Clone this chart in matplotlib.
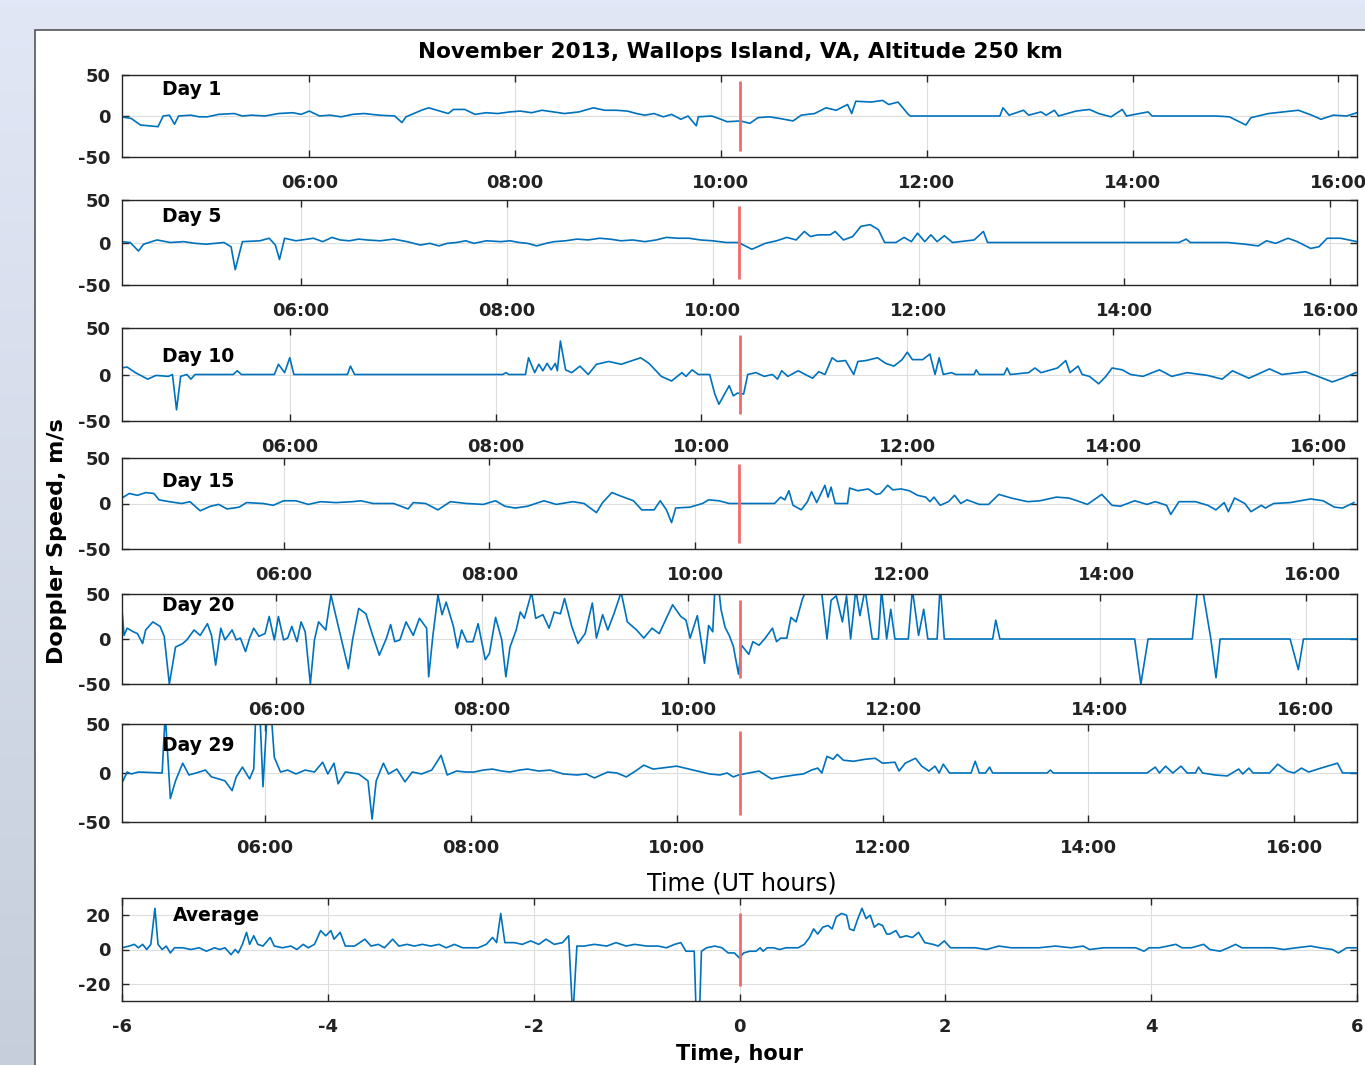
import matplotlib.pyplot as plt
from matplotlib.patches import Rectangle
import numpy as np

plt.rcParams['axes.unicode_minus'] = False

# panel names and the UT hour of the marked event (red line) for each day
day_names = ["Day 1", "Day 5", "Day 10", "Day 15", "Day 20", "Day 29"]
event_ut = [10.18, 10.26, 10.37, 10.43, 10.50, 10.61]

# (UT hour, Doppler speed m/s)
day1 = [(4.17, -1), (4.27, -3), (4.36, -11), (4.53, -13), (4.58, 0), (4.64, 1), (4.69, -10), (4.73, 0),
        (4.85, 1), (4.93, -1), (5.01, -1), (5.12, 2), (5.27, 3), (5.35, 0), (5.44, 1), (5.57, 0),
        (5.70, 3), (5.84, 4), (5.92, 2), (6.00, 6), (6.10, 0), (6.20, 1), (6.31, -1), (6.42, 2),
        (6.53, 3), (6.68, 1), (6.83, 0), (6.90, -8), (6.94, -1), (7.09, 7), (7.16, 10), (7.35, 3),
        (7.40, 8), (7.51, 8), (7.61, 2), (7.72, 4), (7.83, 3), (7.95, 5), (8.05, 6), (8.16, 4),
        (8.26, 7), (8.37, 5), (8.48, 3), (8.62, 5), (8.76, 10), (8.87, 7), (8.98, 7), (9.09, 6),
        (9.18, 3), (9.26, 1), (9.35, 3), (9.44, -1), (9.52, 2), (9.61, -4), (9.68, 0), (9.76, -12),
        (9.78, -1), (9.91, 0), (10.00, -4), (10.06, -7), (10.19, -6), (10.28, -9), (10.36, -2),
        (10.47, -1), (10.57, -3), (10.70, -6), (10.78, 1), (10.91, 3), (11.02, 10), (11.12, 7),
        (11.23, 14), (11.27, 3), (11.31, 18), (11.46, 17), (11.57, 19), (11.63, 14), (11.72, 17),
        (11.82, 2), (11.84, 0), (12.71, 0), (12.74, 10), (12.80, 1), (12.94, 7), (12.99, 1),
        (13.11, 5), (13.16, 1), (13.24, 7), (13.28, 0), (13.45, 6), (13.58, 8), (13.67, 3),
        (13.79, -1), (13.90, 8), (13.94, 0), (14.15, 5), (14.19, 0), (14.81, 0), (14.94, -1),
        (15.10, -11), (15.15, -2), (15.32, 3), (15.61, 7), (15.74, 1), (15.83, -4), (15.95, 1),
        (16.08, 0), (16.18, 4)]

day5 = [(4.26, 1), (4.34, 0), (4.42, -10), (4.47, -2), (4.60, 3), (4.73, 0), (4.86, 1), (4.97, -1),
        (5.08, -2), (5.25, 0), (5.32, -5), (5.36, -32), (5.43, 1), (5.60, 2), (5.69, 5), (5.75, -3),
        (5.79, -20), (5.84, 5), (5.95, 2), (6.12, 5), (6.21, 1), (6.30, 6), (6.38, 3), (6.47, 2),
        (6.56, 4), (6.64, 3), (6.77, 2), (6.90, 4), (7.03, 1), (7.16, -3), (7.25, -1), (7.34, -4),
        (7.42, -1), (7.51, 0), (7.60, 2), (7.68, -1), (7.80, 2), (7.94, 1), (8.03, 2), (8.12, 0),
        (8.20, -1), (8.29, -4), (8.38, -1), (8.46, 1), (8.57, 2), (8.68, 4), (8.79, 3), (8.90, 5),
        (9.00, 4), (9.11, 2), (9.22, 3), (9.34, 1), (9.45, 3), (9.55, 6), (9.66, 5), (9.77, 5),
        (9.88, 3), (10.00, 2), (10.13, 0), (10.25, 0), (10.38, -8), (10.51, -1), (10.62, 2),
        (10.72, 6), (10.81, 3), (10.89, 13), (10.95, 7), (11.02, 9), (11.14, 9), (11.19, 13),
        (11.27, 3), (11.36, 7), (11.44, 19), (11.53, 21), (11.61, 15), (11.67, 0), (11.78, 0),
        (11.86, 6), (11.93, 1), (11.99, 11), (12.06, 1), (12.12, 9), (12.18, 1), (12.25, 8),
        (12.33, 0), (12.54, 3), (12.63, 13), (12.67, 0), (14.53, 0), (14.60, 4), (14.64, 0),
        (15.00, 0), (15.17, -2), (15.30, -4), (15.38, 2), (15.47, -1), (15.59, 5), (15.68, 1),
        (15.81, -7), (15.89, -5), (15.97, 5), (16.10, 5), (16.26, 1)]

day10 = [(4.36, 7), (4.42, 8), (4.50, 2), (4.62, -5), (4.70, -1), (4.82, -2), (4.86, 0), (4.90, -38),
         (4.94, -2), (5.00, 0), (5.04, -5), (5.08, 0), (5.45, 0), (5.49, 4), (5.53, 0), (5.85, 0),
         (5.89, 11), (5.95, 2), (6.00, 18), (6.04, 0), (6.56, 0), (6.59, 9), (6.63, 0), (8.07, 0),
         (8.10, 2), (8.13, 0), (8.29, 0), (8.32, 18), (8.38, 2), (8.42, 11), (8.46, 4), (8.50, 12),
         (8.54, 5), (8.58, 12), (8.60, 4), (8.63, 36), (8.68, 5), (8.74, 2), (8.82, 9), (8.90, 0),
         (8.98, 11), (9.10, 14), (9.22, 11), (9.41, 18), (9.49, 12), (9.61, -2), (9.71, -7), (9.81, 2),
         (9.85, -2), (9.91, 5), (9.97, 0), (10.08, 0), (10.13, -21), (10.17, -32), (10.27, -12),
         (10.31, -23), (10.35, -20), (10.41, -21), (10.45, 0), (10.53, 2), (10.61, -2), (10.69, 0),
         (10.74, -5), (10.78, 4), (10.84, -2), (10.94, 4), (11.08, -4), (11.14, 3), (11.20, 0),
         (11.27, 18), (11.32, 14), (11.40, 15), (11.48, 0), (11.52, 14), (11.60, 15), (11.71, 18),
         (11.79, 12), (11.87, 9), (11.95, 16), (12.00, 24), (12.05, 16), (12.15, 16), (12.22, 22),
         (12.27, 0), (12.31, 18), (12.35, 0), (12.43, 2), (12.47, 0), (12.65, 0), (12.67, 5),
         (12.70, 0), (12.94, 0), (12.97, 7), (13.00, 0), (13.18, 2), (13.24, 7), (13.30, 2),
         (13.46, 7), (13.54, 15), (13.58, 2), (13.66, 9), (13.70, 0), (13.77, -2), (13.86, -10),
         (13.93, -2), (13.99, 7), (14.09, 5), (14.17, 0), (14.29, -2), (14.45, 5), (14.57, -2),
         (14.72, 2), (14.92, -1), (15.06, -5), (15.16, 4), (15.32, -4), (15.52, 6), (15.64, 0),
         (15.87, 3), (15.99, -2), (16.13, -8), (16.23, -4), (16.36, 2)]

day15 = [(4.43, 6), (4.50, 11), (4.58, 9), (4.66, 12), (4.74, 11), (4.79, 4), (4.89, 2), (5.01, 0),
         (5.09, 2), (5.19, -8), (5.29, -3), (5.37, -1), (5.45, -6), (5.57, -4), (5.64, 1), (5.80, 0),
         (5.90, -2), (6.00, 3), (6.12, 3), (6.24, -1), (6.36, 2), (6.51, 1), (6.67, 2), (6.75, 3),
         (6.87, 0), (7.07, 0), (7.21, -6), (7.26, 1), (7.38, 0), (7.50, -7), (7.62, 2), (7.78, 0),
         (7.94, -1), (8.06, 3), (8.15, -3), (8.25, -5), (8.37, -3), (8.53, 3), (8.65, -1), (8.81, 2),
         (8.92, 0), (9.04, -10), (9.10, 1), (9.19, 12), (9.28, 8), (9.40, 3), (9.48, -7), (9.60, -7),
         (9.66, 3), (9.72, -7), (9.77, -21), (9.81, -5), (9.95, -4), (10.07, 0), (10.13, 4),
         (10.23, 3), (10.33, 0), (10.42, 0), (10.61, 0), (10.77, 0), (10.83, 7), (10.87, 4),
         (10.91, 14), (10.95, -2), (11.03, -7), (11.09, 2), (11.13, 13), (11.18, 1), (11.26, 20),
         (11.29, 7), (11.32, 18), (11.36, 0), (11.48, 0), (11.50, 17), (11.58, 14), (11.68, 16),
         (11.76, 10), (11.80, 11), (11.87, 20), (11.92, 15), (12.00, 16), (12.08, 14), (12.16, 9),
         (12.24, 7), (12.28, 2), (12.32, 7), (12.38, -2), (12.46, 2), (12.52, 9), (12.58, 0),
         (12.64, 4), (12.76, -1), (12.85, -1), (12.95, 10), (13.07, 6), (13.23, 2), (13.35, 3),
         (13.51, 7), (13.63, 6), (13.71, 3), (13.81, -1), (13.95, 10), (14.05, -2), (14.13, -3),
         (14.27, 3), (14.39, -1), (14.47, 2), (14.58, -2), (14.62, -12), (14.70, 2), (14.86, 2),
         (14.98, -2), (15.06, -7), (15.14, 1), (15.18, -9), (15.24, 6), (15.34, 0), (15.40, -9),
         (15.50, -2), (15.54, -5), (15.62, 0), (15.78, 1), (15.98, 5), (16.10, 3), (16.21, -4),
         (16.29, -5), (16.40, 1)]

day20 = [(4.50, 32), (4.52, 4), (4.55, 12), (4.61, 8), (4.65, 6), (4.70, -5), (4.73, 10), (4.80, 19),
         (4.87, 14), (4.91, 3), (4.96, -50), (5.02, -9), (5.09, -5), (5.13, -1), (5.20, 10), (5.26, 4),
         (5.33, 17), (5.37, 4), (5.41, -29), (5.46, 12), (5.50, -1), (5.57, 10), (5.61, -1), (5.65, 1),
         (5.70, -14), (5.74, 1), (5.78, 12), (5.83, 3), (5.89, 6), (5.93, 25), (5.98, -1), (6.02, 25),
         (6.07, -1), (6.11, 1), (6.15, 14), (6.20, -3), (6.24, 19), (6.28, 8), (6.33, -50), (6.37, -1),
         (6.41, 19), (6.48, 10), (6.53, 49), (6.61, 10), (6.70, -33), (6.74, -1), (6.80, 34),
         (6.87, 28), (6.93, 6), (7.00, -18), (7.07, 1), (7.11, 16), (7.15, -3), (7.20, -1), (7.26, 19),
         (7.33, 4), (7.39, 23), (7.46, 12), (7.48, -42), (7.52, 3), (7.57, 49), (7.61, 27), (7.65, 41),
         (7.72, 14), (7.76, -10), (7.80, 10), (7.85, -3), (7.91, -3), (7.96, 17), (8.03, -23),
         (8.07, -16), (8.13, 24), (8.19, -1), (8.23, -42), (8.27, -9), (8.33, 10), (8.37, 30),
         (8.41, 23), (8.48, 52), (8.52, 23), (8.59, 27), (8.65, 12), (8.70, 30), (8.76, 28), (8.80, 45),
         (8.87, 14), (8.93, -5), (9.00, 6), (9.07, 40), (9.11, 1), (9.17, 27), (9.22, 10), (9.28, 28),
         (9.35, 52), (9.41, 19), (9.50, 10), (9.57, 1), (9.65, 12), (9.72, 6), (9.85, 38), (9.93, 25),
         (9.98, 21), (10.02, 1), (10.09, 26), (10.16, -27), (10.20, 15), (10.24, 8), (10.26, 55),
         (10.30, 55), (10.32, 33), (10.36, 13), (10.40, 4), (10.44, -8), (10.49, -39), (10.52, -7),
         (10.59, -17), (10.63, -3), (10.69, -7), (10.75, 1), (10.82, 12), (10.86, -3), (10.90, 1),
         (10.96, 1), (11.00, 24), (11.05, 19), (11.11, 44), (11.15, 55), (11.18, 60), (11.29, 60),
         (11.35, 0), (11.39, 43), (11.44, 48), (11.50, 19), (11.54, 48), (11.58, 0), (11.63, 55),
         (11.67, 26), (11.72, 55), (11.79, 0), (11.85, 0), (11.88, 55), (11.93, 0), (11.97, 33),
         (12.01, 0), (12.14, 0), (12.18, 55), (12.24, 4), (12.29, 33), (12.33, 0), (12.42, 0),
         (12.45, 60), (12.49, 0), (12.96, 0), (12.99, 21), (13.03, 0), (14.34, 0), (14.40, -50),
         (14.47, 0), (14.90, 0), (14.95, 55), (15.00, 55), (15.08, 0), (15.13, -43), (15.17, 0),
         (15.85, 0), (15.93, -34), (15.98, 0), (16.50, 0)]

day29 = [(4.62, -8), (4.66, 1), (4.70, -1), (4.77, 1), (5.00, 0), (5.03, 60), (5.08, -26), (5.13, -8),
         (5.20, 10), (5.26, -2), (5.33, 0), (5.42, 3), (5.48, -4), (5.55, -6), (5.61, -8), (5.68, -18),
         (5.72, -4), (5.78, 6), (5.85, -6), (5.89, 4), (5.91, 60), (5.95, 60), (5.98, -14), (6.02, 60),
         (6.06, 60), (6.09, 16), (6.11, 11), (6.15, 1), (6.22, 3), (6.30, -1), (6.39, 3), (6.48, 1),
         (6.56, 11), (6.61, -1), (6.67, 10), (6.71, -11), (6.78, 1), (6.91, -1), (7.00, -8),
         (7.04, -47), (7.08, -8), (7.15, 10), (7.20, -1), (7.28, 4), (7.36, -9), (7.43, 1), (7.52, -1),
         (7.62, 3), (7.71, 18), (7.77, -2), (7.86, 2), (7.95, 1), (8.03, 1), (8.12, 3), (8.21, 4),
         (8.30, 2), (8.38, 1), (8.47, 3), (8.55, 4), (8.66, 2), (8.77, 3), (8.90, -1), (9.03, -2),
         (9.12, -1), (9.20, -5), (9.33, 1), (9.42, 0), (9.51, -4), (9.60, 2), (9.68, 8), (9.77, 4),
         (9.85, 5), (10.00, 7), (10.20, 2), (10.32, -1), (10.42, -2), (10.49, 0), (10.55, -4),
         (10.60, -2), (10.65, -1), (10.80, 2), (10.92, -6), (11.02, -4), (11.15, -2), (11.23, -1),
         (11.31, 3), (11.37, 5), (11.41, 0), (11.46, 17), (11.52, 14), (11.56, 19), (11.62, 13),
         (11.72, 12), (11.83, 14), (11.93, 15), (12.00, 10), (12.12, 11), (12.16, 2), (12.22, 10),
         (12.32, 15), (12.38, 7), (12.45, 2), (12.51, 7), (12.55, 0), (12.59, 9), (12.65, 0),
         (12.86, 0), (12.90, 12), (12.94, 0), (13.00, 0), (13.04, 6), (13.07, 0), (13.60, 0),
         (13.63, 3), (13.66, 0), (14.57, 0), (14.65, 6), (14.69, 0), (14.75, 7), (14.82, 0),
         (14.90, 7), (14.96, 0), (15.04, 0), (15.07, 6), (15.11, 0), (15.23, -2), (15.35, -3),
         (15.46, 4), (15.50, -1), (15.56, 5), (15.60, 0), (15.76, 0), (15.84, 9), (15.93, 2),
         (16.00, 0), (16.07, 5), (16.14, 1), (16.26, 5), (16.42, 10), (16.47, 0), (16.61, 0)]

# (hours from event, mean speed m/s)
average = [(-6.00, 1), (-5.93, 2), (-5.88, 3), (-5.84, 1), (-5.80, 3), (-5.76, 0), (-5.72, 3),
           (-5.68, 24), (-5.65, 3), (-5.61, 0), (-5.57, 2), (-5.53, -2), (-5.49, 1), (-5.41, 1),
           (-5.33, 0), (-5.25, 1), (-5.18, -1), (-5.10, 1), (-5.05, 0), (-5.00, 1), (-4.94, -3),
           (-4.90, 0), (-4.87, -2), (-4.83, 3), (-4.79, 10), (-4.76, 3), (-4.72, 8), (-4.68, 3),
           (-4.63, 2), (-4.56, 7), (-4.52, 2), (-4.44, 1), (-4.36, 2), (-4.30, 0), (-4.24, 3),
           (-4.19, 1), (-4.13, 3), (-4.07, 11), (-4.02, 8), (-3.97, 11), (-3.94, 6), (-3.88, 10),
           (-3.83, 2), (-3.74, 2), (-3.64, 6), (-3.58, 2), (-3.51, 3), (-3.45, 1), (-3.37, 6),
           (-3.31, 2), (-3.23, 3), (-3.16, 2), (-3.08, 3), (-3.00, 2), (-2.92, 3), (-2.85, 1),
           (-2.77, 3), (-2.69, 1), (-2.61, 1), (-2.54, 1), (-2.46, 3), (-2.40, 7), (-2.36, 4),
           (-2.32, 21), (-2.28, 4), (-2.19, 4), (-2.11, 3), (-2.03, 5), (-1.95, 3), (-1.88, 6),
           (-1.80, 3), (-1.72, 4), (-1.66, 8), (-1.62, -40), (-1.58, 2), (-1.51, 2), (-1.41, 3),
           (-1.29, 2), (-1.20, 4), (-1.10, 2), (-1.02, 3), (-0.90, 2), (-0.79, 2), (-0.71, 1),
           (-0.63, 3), (-0.57, 4), (-0.52, -1), (-0.44, -1), (-0.42, -40), (-0.39, -40), (-0.37, -1),
           (-0.32, 1), (-0.24, 2), (-0.17, 1), (-0.11, -2), (-0.05, -2), (0.00, -5), (0.04, -2),
           (0.10, -1), (0.16, -1), (0.20, 1), (0.23, -1), (0.27, 1), (0.33, 1), (0.39, 0), (0.45, 1),
           (0.51, 1), (0.57, 1), (0.63, 3), (0.68, 7), (0.72, 12), (0.76, 9), (0.81, 13), (0.86, 14),
           (0.90, 12), (0.94, 19), (0.99, 21), (1.04, 20), (1.07, 12), (1.11, 11), (1.15, 18),
           (1.19, 24), (1.23, 18), (1.27, 20), (1.31, 13), (1.35, 15), (1.39, 14), (1.43, 9),
           (1.46, 9), (1.52, 11), (1.56, 7), (1.62, 8), (1.68, 7), (1.74, 10), (1.80, 4), (1.88, 3),
           (1.93, 2), (1.99, 5), (2.05, 1), (2.13, 1), (2.29, 1), (2.40, 0), (2.52, 2), (2.64, 1),
           (2.75, 1), (2.91, 1), (3.07, 2), (3.22, 1), (3.34, 2), (3.40, 0), (3.54, 1), (3.69, 1),
           (3.85, 1), (3.93, -1), (3.98, 1), (4.08, 1), (4.16, 2), (4.24, 3), (4.30, 1), (4.39, 1),
           (4.51, 3), (4.57, 0), (4.67, -1), (4.75, 1), (4.82, 3), (4.88, 1), (5.02, 1), (5.18, 1),
           (5.29, 0), (5.41, 1), (5.55, 2), (5.64, 1), (5.76, 0), (5.82, -2), (5.90, 1), (5.99, 1)]

days = [day1, day5, day10, day15, day20, day29]

hour_ticks = [6, 8, 10, 12, 14, 16]
hour_labels = ["06:00", "08:00", "10:00", "12:00", "14:00", "16:00"]
speed_ticks = [-50, 0, 50]
avg_ticks = [-20, 0, 20]
rel_ticks = [-6, -4, -2, 0, 2, 4, 6]

W, H = 1365, 1065
blue = '#0072BD'
red = '#f36a6a'

# panel top/bottom in pixels
rows = [(75, 157), (200, 285), (328, 421), (458, 549), (594, 684), (724, 822)]
label_y = [0.82, 0.81, 0.69, 0.74, 0.87, 0.78]
left_px, right_px = 122, 1357


def box(top, bottom):
    return [left_px / W, 1 - bottom / H, (right_px - left_px) / W, (bottom - top) / H]


def style(ax):
    ax.grid(True, color='#dedede', lw=0.8)
    ax.set_axisbelow(True)
    ax.tick_params(direction='in', top=True, right=True, length=5, width=1,
                   labelsize=13, colors='#262626')
    ax.tick_params(axis='x', pad=12)
    ax.tick_params(axis='y', pad=8)
    for s in ax.spines.values():
        s.set_color('#262626')
        s.set_linewidth(1.0)
    for lbl in ax.get_xticklabels() + ax.get_yticklabels():
        lbl.set_fontweight('bold')
        lbl.set_color('#222222')


fig = plt.figure(figsize=(W / 100, H / 100), dpi=100)

# screenshot backdrop: bluish gradient with the white figure window on it
bg = fig.add_axes([0, 0, 1, 1], zorder=-5)
grad = np.linspace(0, 1, 256).reshape(-1, 1)
c_top = np.array([0.886, 0.906, 0.965])
c_bot = np.array([0.78, 0.81, 0.86])
img = c_top + grad[:, :, None] * (c_bot - c_top)
bg.imshow(img, aspect='auto', extent=[0, 1, 0, 1])
bg.set_axis_off()
fig.patches.append(Rectangle((35 / W, -0.01), 1, 1 - 30 / H + 0.01, transform=fig.transFigure,
                             facecolor='white', edgecolor='#555555', lw=1.2, zorder=-4))

for i, (name, ev, data) in enumerate(zip(day_names, event_ut, days)):
    ax = fig.add_axes(box(*rows[i]))
    t = [p[0] for p in data]
    v = [p[1] for p in data]
    ax.plot(t, v, color=blue, lw=1.2)
    ax.vlines(ev, -43, 43, color=red, lw=2)
    ax.set_xlim(ev - 6, ev + 6)
    ax.set_ylim(-50, 50)
    ax.set_xticks(hour_ticks)
    ax.set_xticklabels(hour_labels)
    ax.set_yticks(speed_ticks)
    style(ax)
    ax.text(0.032, label_y[i], name, transform=ax.transAxes, fontsize=13.5,
            fontweight='bold', va='center', ha='left')

ax = fig.add_axes(box(898, 1001))
ax.plot([p[0] for p in average], [p[1] for p in average], color=blue, lw=1.2)
ax.vlines(0, -21, 21, color=red, lw=2)
ax.set_xlim(-6, 6)
ax.set_ylim(-30, 30)
ax.set_xticks(rel_ticks)
ax.set_yticks(avg_ticks)
style(ax)
ax.text(0.041, 0.83, "Average", transform=ax.transAxes, fontsize=13.5,
        fontweight='bold', va='center', ha='left')

fig.text(740 / W, 1 - 52 / H, "November 2013, Wallops Island, VA, Altitude 250 km",
         ha='center', va='center', fontsize=15.6, fontweight='bold')
fig.text(57 / W, 1 - 541 / H, "Doppler Speed, m/s", rotation=90, ha='center', va='center',
         fontsize=16, fontweight='bold')
fig.text(742 / W, 1 - 884 / H, "Time (UT hours)", ha='center', va='center', fontsize=17)
fig.text(740 / W, 1 - 1064 / H, "Time, hour", ha='center', va='bottom', fontsize=15,
         fontweight='bold')

fig.savefig("out.png", dpi=100)
